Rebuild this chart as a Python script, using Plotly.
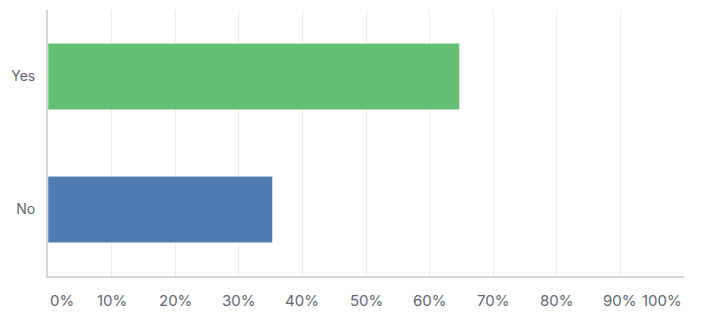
import plotly.graph_objects as go

categories = ["Yes", "No"]
values = [64.7, 35.3]
colors = ["#63bf74", "#4f7bb5"]
tick_values = [0, 10, 20, 30, 40, 50, 60, 70, 80, 90, 100]
tick_labels = ["0%", "10%", "20%", "30%", "40%", "50%", "60%", "70%", "80%", "90%", "100%"]

font_family = "Inter, Roboto, sans-serif"
text_color = "#5f6670"

fig = go.Figure()
fig.add_trace(go.Bar(
    y=categories,
    x=values,
    orientation="h",
    marker=dict(color=colors, line=dict(color="rgba(255,255,255,0.5)", width=1)),
    hoverinfo="x+y",
))

annotations = []
for v, lab in zip(tick_values, tick_labels):
    anchor = "center"
    if v == tick_values[0]:
        anchor = "left"
    elif v == tick_values[-1]:
        anchor = "right"
    annotations.append(dict(
        x=v, xref="x", y=0, yref="paper", yshift=-24, yanchor="middle",
        xanchor=anchor, text=lab, showarrow=False,
        font=dict(family=font_family, size=15, color=text_color),
    ))

fig.update_layout(
    width=707, height=321,
    margin=dict(l=48, r=23, t=10, b=45),
    paper_bgcolor="white", plot_bgcolor="white",
    bargap=0.5,
    showlegend=False,
    annotations=annotations,
    xaxis=dict(
        range=[0, 100], tickvals=tick_values, showticklabels=False,
        showgrid=True, gridcolor="#ececec", gridwidth=1,
        zeroline=False, showline=True, linecolor="#d6d6d6", linewidth=2,
        fixedrange=True,
    ),
    yaxis=dict(
        categoryorder="array", categoryarray=["No", "Yes"],
        showline=True, linecolor="#d6d6d6", linewidth=2,
        showgrid=False, zeroline=False, ticks="", ticklabelstandoff=8,
        tickfont=dict(family=font_family, size=14, color=text_color),
        fixedrange=True,
    ),
    font=dict(family=font_family),
)

fig.write_html("out.html")
